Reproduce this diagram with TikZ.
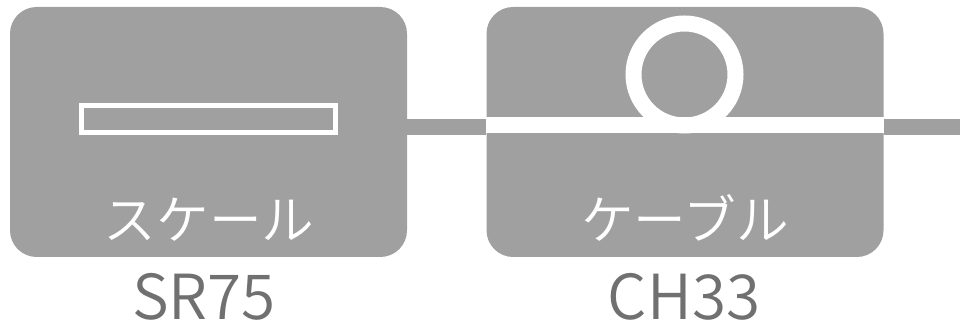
\documentclass[tikz,border=0pt]{standalone}
\usepackage{fontspec}
\usetikzlibrary{positioning}
\setmainfont{Noto Sans CJK JP DemiLight}
\definecolor{boxgray}{HTML}{A0A0A0}
\definecolor{textgray}{HTML}{707070}
\tikzset{
  unitbox/.style={fill=boxgray, rounded corners=20pt, minimum width=297.75pt, minimum height=187.5pt, inner sep=0pt},
  unitname/.style={text=white, font=\fontsize{39.5pt}{39.5pt}\selectfont, inner sep=0pt, anchor=base},
  partno/.style={text=textgray, font=\fontsize{46.5pt}{46.5pt}\selectfont, inner sep=0pt, text depth=0pt, anchor=base},
  wire/.style={draw=boxgray, line width=12pt},
  whitewire/.style={draw=white, line width=12pt}
}
\begin{document}
\begin{tikzpicture}[x=.75pt,y=-.75pt]
\useasboundingbox (0,0) rectangle (960,323);

% the two boxes
\node[unitbox] (scale) at (208.5,132) {};
\node[unitbox] (cable) at (685,132) {};
\coordinate (wireend) at (960,127);

% connecting lines
\draw[wire] ([yshift=3.75pt]scale.east) -- ([yshift=3.75pt]cable.west);
\draw[wire] ([yshift=3.75pt]cable.east) -- (wireend);

% scale symbol
\node[draw=white, line width=3.75pt, minimum width=190.5pt, minimum height=20.25pt, inner sep=0pt] (bar) at (208.5,119) {};

% cable symbol
\node[circle, draw=white, line width=12pt, minimum size=76.5pt, inner sep=0pt] (loop) at (684.5,74.5) {};
\draw[whitewire] ([yshift=5.25pt]cable.west) -- ([yshift=5.25pt]cable.east);

% labels
\node[unitname] (scalename) at (209,239.5) {スケール};
\node[unitname] (cablename) at (685,239.5) {ケーブル};
\node[partno] (scaleno) at (204,319.5) {SR75};
\node[partno] (cableno) at (684,319.5) {CH33};
\end{tikzpicture}
\end{document}
